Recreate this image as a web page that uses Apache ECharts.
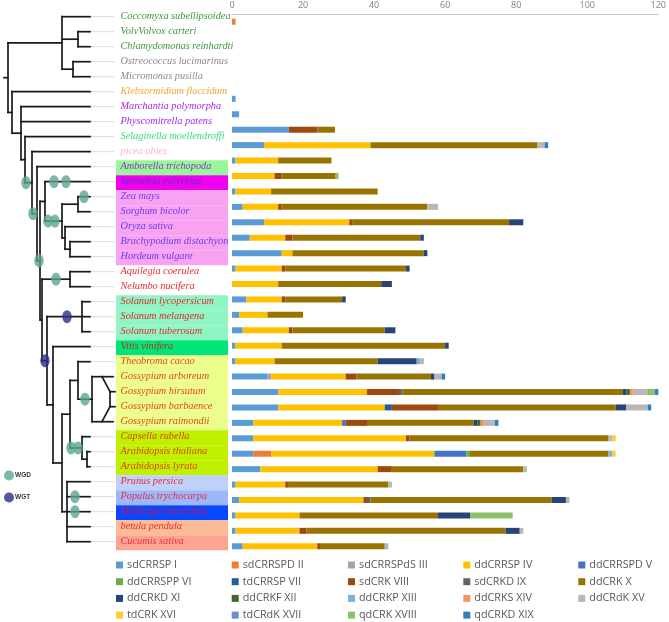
<!DOCTYPE html>
<html><head><meta charset="utf-8">
<script src="https://cdn.jsdelivr.net/npm/echarts@6/dist/echarts.min.js"></script>
<style>html,body{margin:0;padding:0;background:#fff}#c{width:669px;height:622px}</style>
</head><body><div id="c"></div>
<script>
// ---------------- data ----------------
const species = [
  'Coccomyxa subellipsoidea','VolvVolvox carteri','Chlamydomonas reinhardti','Ostreococcus lucimarinus','Micromonas pusilla',
  'Klebsormidium flaccidum','Marchantia polymorpha','Physcomitrella patens','Selaginella moellendroffi','picea abies',
  'Amborella trichopoda','Spirodela polyrhiza','Zea mays','Sorghum bicolor','Oryza sativa','Brachypodium distachyon','Hordeum vulgare',
  'Aquilegia coerulea','Nelumbo nucifera','Solanum lycopersicum','Solanum melangena','Solanum tuberosum','Vitis vinifera',
  'Theobroma cacao','Gossypium arboreum','Gossypium hirsutum','Gossypium barbaence','Gossypium raimondii',
  'Capsella rubella','Arabidopsis thaliana','Arabidopsis lyrata','Prunus persica','Populus trychocarpa','Medicago truncatula',
  'betula pendula','Cucumis sativa'];
const speciesColors = [
  '#3a9a3a','#3a9a3a','#3a9a3a','#8c8c8c','#8c8c8c',
  '#f0a830','#a828e8','#a828e8','#33e07a','#f7b6c6',
  '#9036c8','#6a2cc0','#6a3df0','#6a3df0','#6a3df0','#6a3df0','#6a3df0',
  '#ee2a2a','#ee2a2a','#e82a2a','#e82a2a','#e82a2a','#c82828',
  '#e8481e','#e8481e','#e8481e','#e8481e','#e8481e',
  '#e04416','#e04416','#e04416','#e83040','#e83040','#c81850',
  '#e83030','#e83030'];
const bandColors = [
  null,null,null,null,null,null,null,null,null,null,
  '#99f599','#f000f0','#f7a3f2','#f7a3f2','#f7a3f2','#f7a3f2','#f7a3f2',
  null,null,'#8ff5c5','#8ff5c5','#8ff5c5','#00e676',
  '#ebfd8a','#ebfd8a','#ebfd8a','#ebfd8a','#ebfd8a',
  '#bff000','#bff000','#bff000','#bfd1fa','#9cb8fa','#0846ff','#fbbb95','#ffa395'];

// phylogeny: leaves are species indices, x = branch depth
const rosids = {x: 62, c: [
  {x: 70, c: [{x: 78, c: [23, {id: 'gos', x: 92, c: [24, 27]}]}, {id: 'bra', x: 82, c: [28, {x: 87, c: [29, 30]}]}]},
  {x: 67, c: [31, 32, 33, 34, 35]}
]};
const eudicots = {id: 'eud', x: 42, c: [
  {id: 'an', x: 70, c: [17, 18]},
  {id: 'core', x: 47, c: [{id: 'sol', x: 82, c: [19, 20, 21]}, {x: 53, c: [22, rosids]}]}
]};
const monocots = {id: 'mono', x: 45, c: [11, {id: 'poa', x: 62, c: [{x: 78, c: [12, 13]}, {x: 65, c: [14, {x: 70, c: [15, 16]}]}]}]};
const seedPlants = {id: 'seed', x: 32, c: [9, {id: 'angio', x: 37, c: [10, {id: 'mes', x: 40, c: [monocots, eudicots]}]}]};
const tree = {x: 8, c: [
  {x: 62, c: [0, {x: 78, c: [1, 2]}, {x: 73, c: [3, 4]}]},
  {x: 12, c: [5, {x: 21, c: [6, 7, {x: 25, c: [8, seedPlants]}]}]}
]};
// allotetraploid cottons: hybrid of the A (arboreum) and D (raimondii) lineages
const hybrids = [{from: 102, x: 110, tip: 115, parents: [24, 27], leaves: [25, 26]}];
const tipOverride = {24: 113, 27: 113};
const wgdEvents = [['seed', 26], ['angio', 33], [11, 54], [11, 66], [12, 84], ['poa', 48], ['poa', 55], ['mes', 39], ['an', 56], ['gos', 85], ['bra', 71], ['bra', 78], [32, 75], [33, 75]];
const wgtEvents = [['sol', 67], ['core', 45]];

const barCategories = species.filter(s => s !== 'VolvVolvox carteri');
const seriesNames = ['sdCRRSP I','sdCRRSPD II','sdCRRSPdS III','ddCRRSP IV','ddCRRSPD V','ddCRRSPP VI','tdCRRSP VII','sdCRK VIII','sdCRKD IX','ddCRK X',
  'ddCRKD XI','ddCRKF XII','ddCRKP XIII','ddCRKS XIV','ddCRdK XV','tdCRK XVI','tdCRdK XVII','qdCRK XVIII','qdCRKD XIX'];
const seriesColors = ['#5B9BD5','#ED7D31','#A5A5A5','#FFC000','#4472C4','#70AD47','#255E91','#9E480E','#636363','#997300',
  '#264478','#43682B','#7CAFDD','#F1975A','#B7B7B7','#FFCD33','#698ED0','#8CC168','#327DC2'];

const sI    = [0,0,0,0,0, 1,2,16,9,1, 0,1,3,9,5, 14,1,0,4,2, 3,1,1,10,13, 13,6,6,6,8, 1,2,1,1,3];
const sII   = [1,0,0,0,0, 0,0,0,0,0, 0,0,0,0,0, 0,0,0,0,0, 0,0,0,0,0, 0,0,0,5,0, 0,0,0,0,0];
const sIII  = [0,0,0,0,0, 0,0,0,0,0, 0,0,0,0,0, 0,0,0,0,0, 0,0,0,1,0, 0,0,0,0,0, 0,0,0,0,0];
const sIV   = [0,0,0,0,0, 0,0,0,30,12, 12,10,10,24,10, 3,13,13,10,8, 13,13,11,21,25, 30,25,43,46,33, 14,35,18,18,21];
const sV    = [0,0,0,0,0, 0,0,0,0,0, 0,0,0,0,0, 0,0,0,0,0, 0,0,0,0,0, 0,1,0,9,0, 0,0,0,0,0];
const sVI   = [0,0,0,0,0, 0,0,0,0,0, 0,0,0,0,0, 0,0,0,0,0, 0,0,0,0,0, 0,0,0,1,0, 0,0,0,0,0];
const sVII  = [0,0,0,0,0, 0,0,0,0,0, 0,0,0,0,0, 0,0,0,0,0, 0,0,0,0,0, 2,0,0,0,0, 0,0,0,0,0];
const sVIII = [0,0,0,0,0, 0,0,8,0,0, 2,0,1,1,2, 0,1,0,1,0, 1,0,0,3,9, 13,6,1,0,4, 1,1,0,2,1];
const sIX   = [0,0,0,0,0, 0,0,0,0,0, 0,0,0,0,0, 0,0,0,0,0, 0,0,0,0,1, 0,0,0,0,0, 0,1,0,0,0];
const sX    = [0,0,0,0,0, 0,0,5,47,15, 15,30,41,44,36, 37,34,29,16,10, 26,46,29,21,62, 50,30,56,39,37, 28,51,39,56,18];
const sXI   = [0,0,0,0,0, 0,0,0,0,0, 0,0,0,4,1, 1,1,3,1,0, 3,1,11,1,1, 3,1,0,0,0, 0,4,9,4,0];
const sXII  = [0,0,0,0,0, 0,0,0,0,0, 0,0,0,0,0, 0,0,0,0,0, 0,0,0,0,1, 0,1,0,0,0, 0,0,0,0,0];
const sXIII = [0,0,0,0,0, 0,0,0,0,0, 0,0,0,0,0, 0,0,0,0,0, 0,0,1,0,0, 0,0,0,1,0, 0,0,0,0,0];
const sXIV  = [0,0,0,0,0, 0,0,0,0,0, 0,0,0,0,0, 0,0,0,0,0, 0,0,0,0,1, 0,1,0,0,0, 0,0,0,0,0];
const sXV   = [0,0,0,0,0, 0,0,0,2,0, 0,0,3,0,0, 0,0,0,0,0, 0,0,1,2,4, 6,3,1,0,1, 1,1,0,1,1];
const sXVI  = [0,0,0,0,0, 0,0,0,0,0, 0,0,0,0,0, 0,0,0,0,0, 0,0,0,0,0, 0,0,1,1,0, 0,0,0,0,0];
const sXVII = [0,0,0,0,0, 0,0,0,0,0, 0,0,0,0,0, 0,0,0,0,0, 0,0,0,0,0, 0,0,0,0,0, 0,0,0,0,0];
const sXVIII= [0,0,0,0,0, 0,0,0,0,0, 1,0,0,0,0, 0,0,0,0,0, 0,0,0,0,2, 0,0,0,0,0, 0,0,12,0,0];
const sXIX  = [0,0,0,0,0, 0,0,0,1,0, 0,0,0,0,0, 0,0,0,0,0, 0,0,0,1,1, 1,1,0,0,0, 0,0,0,0,0];
const seriesValues = [sI,sII,sIII,sIV,sV,sVI,sVII,sVIII,sIX,sX,sXI,sXII,sXIII,sXIV,sXV,sXVI,sXVII,sXVIII,sXIX];
const xTicks = {min: 0, max: 120, interval: 20};

// ---------------- layout helpers ----------------
const TIP_X = 90, LEADER_END = 114, LABEL_X = 120.5, BAND_L = 116, BAND_R = 228, ROOT_STUB = 4;
const nodeY = {}; const segs = []; const tipOf = {};
function lay(n) {
  if (typeof n === 'number') { const tx = tipOverride[n] || TIP_X; tipOf[n] = tx; return {y: n, x: tx}; }
  const ch = n.c.map(lay);
  const y = (ch[0].y + ch[ch.length - 1].y) / 2;
  segs.push([n.x, ch[0].y, n.x, ch[ch.length - 1].y]);
  ch.forEach(c => segs.push([n.x, c.y, c.x, c.y]));
  if (n.id) nodeY[n.id] = y;
  return {y, x: n.x};
}
const rootPos = lay(tree);
segs.push([ROOT_STUB, rootPos.y, tree.x, rootPos.y]);
hybrids.forEach(h => {
  const lo = h.leaves[0], hi = h.leaves[h.leaves.length - 1];
  segs.push([h.x, lo, h.x, hi]);
  segs.push([h.from, h.parents[0], h.x, lo]);
  segs.push([h.from, h.parents[1], h.x, hi]);
  h.leaves.forEach(l => { segs.push([h.x, l, h.tip, l]); tipOf[l] = h.tip; });
});
const leaders = species.map((s, i) => [tipOf[i] || TIP_X, i, Math.max(LEADER_END, tipOf[i] || 0), i]);
const evPos = e => [e[1], typeof e[0] === 'number' ? e[0] : nodeY[e[0]]];
const ELLIPSE = 'path://M0,-1A1,1 0 1,1 0,1A1,1 0 1,1 0,-1Z';

function lineItem(color, width) {
  return (params, api) => {
    const p1 = api.coord([api.value(0), api.value(1)]);
    const p2 = api.coord([api.value(2), api.value(3)]);
    return {type: 'line', shape: {x1: p1[0], y1: p1[1], x2: p2[0], y2: p2[1]},
      style: {stroke: color, lineWidth: width, lineCap: 'square'}};
  };
}

const chart = echarts.init(document.getElementById('c'), null, {renderer: 'canvas'});
const colLefts = [116, 231.7, 348, 463.3, 578.3];
const legends = colLefts.map((l, c) => ({
  left: l, top: 558, height: 90, padding: 0, orient: 'vertical', itemWidth: 7, itemHeight: 7, itemGap: 2.7, icon: 'rect', selectedMode: false,
  data: seriesNames.filter((n, i) => i % 5 === c),
  textStyle: {fontFamily: 'Open Sans', fontSize: 10.8, color: '#595959', lineHeight: 14, padding: [0, 0, 0, -1]}
}));
legends.push({
  left: 4, top: 470.5, padding: 0, orient: 'vertical', itemWidth: 10, itemHeight: 13, itemGap: 12, icon: ELLIPSE, selectedMode: false,
  data: ['WGD', 'WGT'],
  textStyle: {fontFamily: 'Liberation Sans', fontSize: 6.5, fontWeight: 'bold', color: '#333', padding: [0, 0, 0, -4]}
});

const series = [
  {type: 'custom', xAxisIndex: 0, yAxisIndex: 0, z: 1, silent: true,
    data: bandColors.map((c, i) => [i]).filter(d => bandColors[d[0]]),
    renderItem: (params, api) => {
      const i = api.value(0);
      const a = api.coord([BAND_L, i - 0.5]); const b = api.coord([BAND_R, i + 0.5]);
      return {type: 'rect', shape: {x: a[0], y: a[1] + 1, width: b[0] - a[0], height: b[1] - a[1]},
        style: {fill: bandColors[i]}};
    }, encode: {y: 0}},
  {type: 'custom', xAxisIndex: 0, yAxisIndex: 0, z: 2, silent: true, data: leaders,
    renderItem: lineItem('#dcdcdc', 1), encode: {x: [0, 2], y: [1, 3]}},
  {type: 'custom', xAxisIndex: 0, yAxisIndex: 0, z: 3, silent: true, data: segs,
    renderItem: lineItem('#1a1a1a', 1.7), encode: {x: [0, 2], y: [1, 3]}},
  {type: 'custom', xAxisIndex: 0, yAxisIndex: 0, z: 4, silent: true,
    data: species.map((s, i) => [LABEL_X, i]),
    renderItem: (params, api) => {
      const i = params.dataIndex;
      const p = api.coord([api.value(0), api.value(1)]);
      return {type: 'text', x: p[0], y: p[1],
        style: {text: species[i], fill: speciesColors[i], font: 'italic 10.3px "Liberation Serif"', align: 'left', verticalAlign: 'middle'}};
    }, encode: {x: 0, y: 1}},
  {name: 'WGD', type: 'scatter', xAxisIndex: 0, yAxisIndex: 0, z: 5, symbol: ELLIPSE, symbolSize: [9.5, 13],
    itemStyle: {color: '#5ba593'}, data: wgdEvents.map(evPos)},
  {name: 'WGT', type: 'scatter', xAxisIndex: 0, yAxisIndex: 0, z: 5, symbol: ELLIPSE, symbolSize: [9.5, 13],
    itemStyle: {color: '#2d2c8a'}, data: wgtEvents.map(evPos)}
];
seriesNames.forEach((n, k) => series.push({
  name: n, type: 'bar', stack: 'total', xAxisIndex: 1, yAxisIndex: 1, barWidth: 6,
  itemStyle: {color: seriesColors[k]}, data: seriesValues[k]
}));

chart.setOption({
  animation: false,
  backgroundColor: '#fff',
  grid: [
    {left: 0, top: 9.2, width: 240, height: 540},
    {left: 232, right: 6.3, top: 14, height: 540}
  ],
  xAxis: [
    {gridIndex: 0, type: 'value', min: 0, max: 240, show: false},
    {gridIndex: 1, type: 'value', position: 'top', min: xTicks.min, max: xTicks.max, interval: xTicks.interval,
      axisLine: {show: true, lineStyle: {color: '#c8c8c8', width: 1}}, axisTick: {show: false}, splitLine: {show: false},
      axisLabel: {color: '#808080', fontSize: 9, margin: 4, fontFamily: 'Open Sans'}}
  ],
  yAxis: [
    {gridIndex: 0, type: 'value', min: -0.5, max: species.length - 0.5, inverse: true, show: false},
    {gridIndex: 1, type: 'category', data: barCategories, inverse: true, show: false}
  ],
  legend: legends,
  series
});
</script></body></html>
